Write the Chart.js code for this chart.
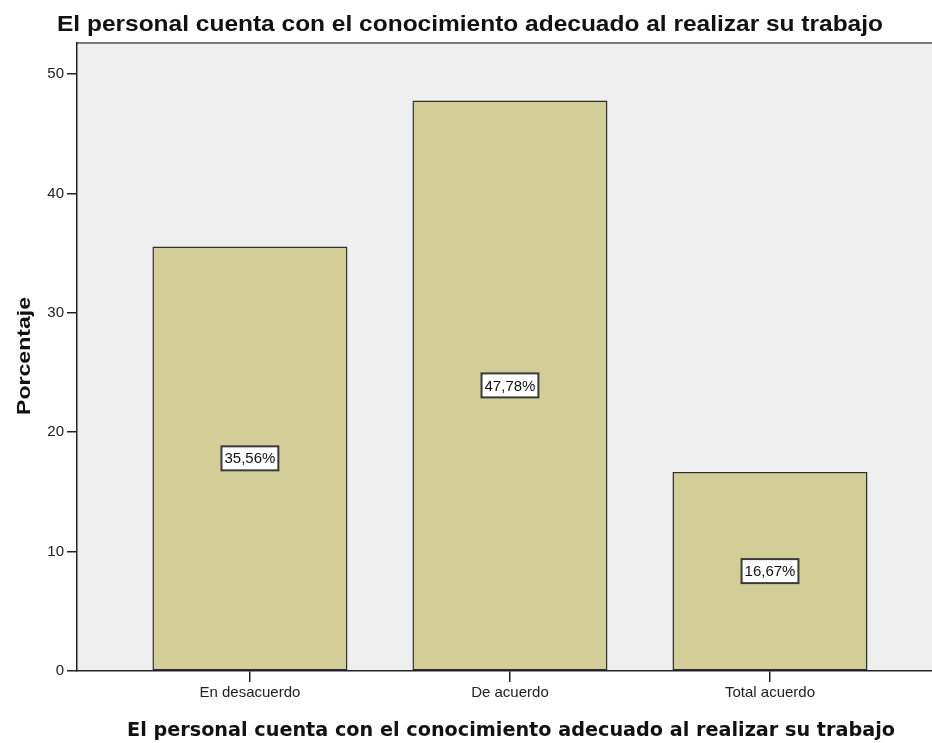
<!DOCTYPE html>
<html>
<head>
<meta charset="utf-8">
<script src="https://cdn.jsdelivr.net/npm/chart.js@4"></script>
<style>
  html, body { margin: 0; padding: 0; background: #fff; overflow: hidden; }
</style>
</head>
<body>
<canvas id="Chart1" width="932" height="743"></canvas>
<script>
// Datos del gráfico
const categorias = ['En desacuerdo', 'De acuerdo', 'Total acuerdo'];
const porcentajes = [35.56, 47.78, 16.67];
const ticksY = [0, 10, 20, 30, 40, 50];

const tituloGrafico = 'El personal cuenta con el conocimiento adecuado al realizar su trabajo';
const tituloEjeX = 'El personal cuenta con el conocimiento adecuado al realizar su trabajo';
const tituloEjeY = 'Porcentaje';

const fuente = '"Liberation Sans", Arial, sans-serif';

// Formato 35,56%
function formatoPct(v) {
  return v.toFixed(2).replace('.', ',') + '%';
}

// Texto ajustado a un ancho dado (escala horizontal)
function textoAjustado(ctx, texto, x, y, ancho) {
  const w = ctx.measureText(texto).width;
  ctx.save();
  ctx.translate(x, y);
  ctx.scale(ancho / w, 1);
  ctx.fillText(texto, 0, 0);
  ctx.restore();
}

// Fondo gris del área de trazado y borde superior
const fondoPlugin = {
  id: 'fondo',
  beforeDraw(chart) {
    const { ctx, chartArea: a } = chart;
    ctx.save();
    ctx.fillStyle = '#efefef';
    ctx.fillRect(a.left, a.top, a.right - a.left, a.bottom - a.top);
    ctx.strokeStyle = '#7a7a7a';
    ctx.lineWidth = 2;
    ctx.beginPath();
    ctx.moveTo(a.left, a.top);
    ctx.lineTo(a.right, a.top);
    ctx.stroke();
    ctx.restore();
  }
};

// Etiquetas de valor en el centro de cada barra
const etiquetasPlugin = {
  id: 'etiquetas',
  afterDatasetsDraw(chart) {
    const ctx = chart.ctx;
    const meta = chart.getDatasetMeta(0);
    ctx.save();
    ctx.font = '15px ' + fuente;
    ctx.textAlign = 'center';
    ctx.textBaseline = 'middle';
    meta.data.forEach((bar, i) => {
      const txt = formatoPct(porcentajes[i]);
      const cy = (bar.y + bar.base) / 2;
      const w = ctx.measureText(txt).width + 6;
      const h = 24;
      ctx.fillStyle = '#ffffff';
      ctx.fillRect(bar.x - w / 2, cy - h / 2, w, h);
      ctx.strokeStyle = '#3a3a3a';
      ctx.lineWidth = 2;
      ctx.strokeRect(bar.x - w / 2, cy - h / 2, w, h);
      ctx.fillStyle = '#111';
      ctx.fillText(txt, bar.x, cy + 1);
    });
    ctx.restore();
  }
};

// Títulos del gráfico y de los ejes
const titulosPlugin = {
  id: 'titulos',
  afterDraw(chart) {
    const ctx = chart.ctx;
    ctx.save();
    ctx.fillStyle = '#111';
    ctx.textAlign = 'left';
    ctx.textBaseline = 'alphabetic';
    ctx.font = 'bold 22px ' + fuente;
    textoAjustado(ctx, tituloGrafico, 57, 31, 826);
    ctx.font = 'bold 20px "DejaVu Sans", Verdana, sans-serif';
    textoAjustado(ctx, tituloEjeX, 127, 736, 768);
    ctx.save();
    ctx.translate(30, 415);
    ctx.rotate(-Math.PI / 2);
    ctx.font = 'bold 18px ' + fuente;
    textoAjustado(ctx, tituloEjeY, 0, 0, 118);
    ctx.restore();
    ctx.restore();
  }
};

const ctx = document.getElementById('Chart1').getContext('2d');
new Chart(ctx, {
  type: 'bar',
  data: {
    datasets: [{
      data: porcentajes.map((v, i) => ({ x: i, y: v })),
      backgroundColor: '#d3ce97',
      borderColor: '#2f2f2f',
      borderWidth: 1.5,
      borderSkipped: false,
      categoryPercentage: 1,
      barPercentage: 0.75
    }]
  },
  options: {
    responsive: false,
    animation: false,
    layout: { padding: { top: 43, left: 0, right: 0, bottom: 0 } },
    plugins: {
      legend: { display: false },
      title: { display: false },
      tooltip: { enabled: false }
    },
    scales: {
      x: {
        type: 'linear',
        offset: false,
        min: -0.665,
        max: 2.623,
        afterBuildTicks(s) { s.ticks = categorias.map((c, i) => ({ value: i })); },
        grid: { display: true, offset: false, drawOnChartArea: false, drawTicks: true, tickLength: 11, color: '#222', lineWidth: 1.5 },
        border: { display: true, color: '#222', width: 1.5 },
        ticks: {
          color: '#222', padding: 2, maxRotation: 0, autoSkip: false,
          font: { family: fuente, size: 15 },
          callback: v => categorias[v]
        },
        afterFit(s) { s.height = 72; }
      },
      y: {
        min: 0,
        max: 52.6,
        afterBuildTicks(s) { s.ticks = ticksY.map(v => ({ value: v })); },
        grid: { display: true, drawOnChartArea: false, drawTicks: true, tickLength: 10, color: '#222', lineWidth: 1.5 },
        border: { display: true, color: '#222', width: 1.5 },
        ticks: { color: '#222', padding: 3, font: { family: fuente, size: 15 } },
        afterFit(s) { s.width = 77; }
      }
    }
  },
  plugins: [fondoPlugin, etiquetasPlugin, titulosPlugin]
});
</script>
</body>
</html>
